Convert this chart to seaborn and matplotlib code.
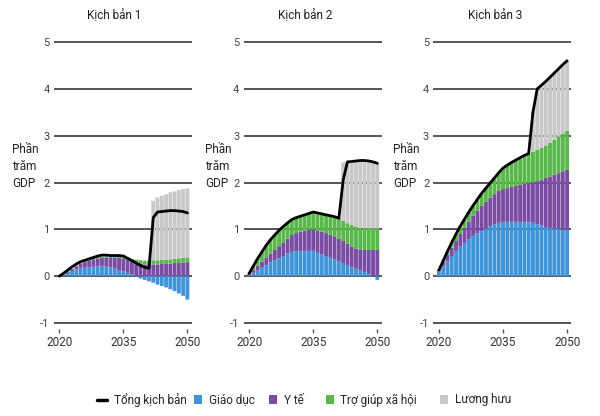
import numpy as np
import pandas as pd
import matplotlib
matplotlib.use("Agg")
import matplotlib.pyplot as plt
from matplotlib.lines import Line2D
from matplotlib.patches import Patch
import seaborn as sns

# Data (percent of GDP), years 2020-2050
years = list(range(2020, 2051))
titles = ["Kịch bản 1", "Kịch bản 2", "Kịch bản 3"]
labels = ["Giáo dục", "Y tế", "Trợ giúp xã hội", "Lương hưu"]
line_label = "Tổng kịch bản"

# Kịch bản 1
edu1 = [0.00, 0.03, 0.07, 0.11, 0.14, 0.16, 0.18, 0.19, 0.20, 0.21, 0.22, 0.21, 0.19, 0.16, 0.13, 0.10,
        0.07, 0.03, -0.01, -0.05, -0.08, -0.11, -0.14, -0.18, -0.21, -0.24, -0.28, -0.32, -0.37, -0.42, -0.50]
health1 = [0.00, 0.01, 0.02, 0.04, 0.07, 0.10, 0.12, 0.14, 0.16, 0.17, 0.17, 0.18, 0.20, 0.23, 0.26, 0.27,
           0.28, 0.29, 0.29, 0.27, 0.25, 0.24, 0.25, 0.25, 0.26, 0.26, 0.27, 0.28, 0.28, 0.29, 0.30]
social1 = [0.00, 0.00, 0.01, 0.01, 0.02, 0.02, 0.02, 0.03, 0.03, 0.03, 0.03, 0.03, 0.03, 0.03, 0.04, 0.04,
           0.05, 0.05, 0.06, 0.07, 0.08, 0.09, 0.09, 0.09, 0.09, 0.09, 0.09, 0.09, 0.10, 0.10, 0.10]
pension1 = [0.0] * 22 + [1.27, 1.34, 1.37, 1.40, 1.43, 1.44, 1.46, 1.47, 1.47]
total1 = [0.00, 0.06, 0.13, 0.20, 0.26, 0.31, 0.34, 0.37, 0.40, 0.43, 0.45, 0.45, 0.44, 0.44, 0.44, 0.43,
          0.38, 0.33, 0.28, 0.23, 0.19, 0.17, 1.25, 1.37, 1.38, 1.39, 1.40, 1.40, 1.39, 1.38, 1.35]

# Kịch bản 2
edu2 = [0.02, 0.07, 0.12, 0.18, 0.23, 0.29, 0.34, 0.38, 0.43, 0.49, 0.52, 0.53, 0.54, 0.54, 0.54, 0.54,
        0.50, 0.46, 0.43, 0.39, 0.36, 0.32, 0.28, 0.24, 0.19, 0.16, 0.12, 0.09, 0.05, 0.00, -0.08]
health2 = [0.03, 0.06, 0.10, 0.13, 0.17, 0.19, 0.22, 0.26, 0.29, 0.31, 0.36, 0.39, 0.41, 0.43, 0.45, 0.46,
           0.48, 0.49, 0.49, 0.50, 0.49, 0.48, 0.47, 0.45, 0.44, 0.43, 0.45, 0.47, 0.51, 0.56, 0.56]
social2 = [0.01, 0.09, 0.16, 0.21, 0.26, 0.30, 0.32, 0.34, 0.34, 0.34, 0.33, 0.33, 0.33, 0.34, 0.35, 0.37,
           0.37, 0.38, 0.39, 0.40, 0.42, 0.44, 0.43, 0.44, 0.46, 0.46, 0.46, 0.46, 0.46, 0.46, 0.46]
pension2 = [0.0] * 22 + [1.25, 1.32, 1.37, 1.42, 1.44, 1.45, 1.44, 1.43, 1.40]
total2 = [0.06, 0.22, 0.38, 0.52, 0.66, 0.78, 0.88, 0.98, 1.06, 1.14, 1.21, 1.25, 1.28, 1.31, 1.34, 1.37,
          1.35, 1.33, 1.31, 1.29, 1.27, 1.24, 2.05, 2.44, 2.45, 2.46, 2.47, 2.47, 2.46, 2.44, 2.41]

# Kịch bản 3
edu3 = [0.10, 0.21, 0.32, 0.43, 0.54, 0.63, 0.71, 0.79, 0.86, 0.91, 0.96, 1.02, 1.07, 1.11, 1.14, 1.16,
        1.16, 1.16, 1.16, 1.16, 1.15, 1.15, 1.14, 1.11, 1.08, 1.05, 1.03, 1.02, 1.01, 1.00, 0.99]
health3 = [0.04, 0.09, 0.14, 0.18, 0.21, 0.27, 0.33, 0.38, 0.43, 0.49, 0.54, 0.57, 0.61, 0.64, 0.68, 0.70,
           0.72, 0.75, 0.77, 0.79, 0.82, 0.84, 0.86, 0.92, 0.98, 1.05, 1.10, 1.15, 1.19, 1.24, 1.28]
social3 = [0.01, 0.03, 0.07, 0.11, 0.15, 0.17, 0.18, 0.20, 0.22, 0.24, 0.26, 0.29, 0.31, 0.35, 0.39, 0.45,
           0.49, 0.52, 0.55, 0.58, 0.61, 0.63, 0.66, 0.67, 0.68, 0.69, 0.72, 0.74, 0.78, 0.81, 0.84]
pension3 = [0.0] * 22 + [0.84, 1.30, 1.34, 1.37, 1.40, 1.43, 1.45, 1.47, 1.49]
total3 = [0.13, 0.33, 0.53, 0.72, 0.90, 1.07, 1.22, 1.37, 1.51, 1.64, 1.77, 1.88, 1.99, 2.10, 2.21, 2.31,
          2.37, 2.43, 2.48, 2.53, 2.58, 2.62, 3.50, 4.00, 4.08, 4.16, 4.25, 4.34, 4.43, 4.52, 4.60]

scenarios = [
    (edu1, health1, social1, pension1, total1),
    (edu2, health2, social2, pension2, total2),
    (edu3, health3, social3, pension3, total3),
]
colors = ["#3f95d8", "#7b4ca3", "#58b84a", "#c8c8c8"]

sns.set_style("white")
plt.rcParams["font.family"] = ["Roboto", "DejaVu Sans"]
plt.rcParams["axes.unicode_minus"] = False

fig = plt.figure(figsize=(6, 4.16), dpi=100)
lefts = [0.0895, 0.406, 0.7223]
title_x = [0.19, 0.508, 0.825]
ylab_x = [0.02, 0.342, 0.655]

for i, (edu, health, social, pension, total) in enumerate(scenarios):
    ax = fig.add_axes([lefts[i], 0.209, 0.23, 0.6955])
    df = pd.DataFrame({"year": years, labels[0]: edu, labels[1]: health,
                       labels[2]: social, labels[3]: pension, "total": total})
    pos_base = np.zeros(len(df))
    neg_base = np.zeros(len(df))
    for name, c in zip(labels, colors):
        v = df[name].to_numpy()
        base = np.where(v >= 0, pos_base, neg_base)
        bars = ax.bar(df["year"], v, bottom=base, width=0.9, color=c, linewidth=0, zorder=2)
        for b in bars:
            b.set_snap(False)
        pos_base = pos_base + np.clip(v, 0, None)
        neg_base = neg_base + np.clip(v, None, 0)
    sns.lineplot(data=df, x="year", y="total", color="black", linewidth=2.0, ax=ax, zorder=3)

    ax.set_xlim(2018.7, 2051.0)
    ax.set_ylim(-1.13, 5.05)
    ax.set_yticks(range(-1, 6))
    ax.set_xticks([2020, 2035, 2050])
    ax.yaxis.grid(True, color="#555555", linewidth=1.4, zorder=0)
    ax.set_axisbelow(True)
    for s in ax.spines.values():
        s.set_visible(False)
    ax.tick_params(axis="y", length=0, pad=3, labelsize=8, labelcolor="#444444")
    ax.tick_params(axis="x", length=3, width=1, color="#555555", pad=2,
                   labelsize=8.5, labelcolor="#333333", bottom=True)
    ax.set_xlabel("")
    ax.set_ylabel("")
    fig.text(title_x[i], 0.962, titles[i], ha="center", va="center", fontsize=8.5, color="#222222")
    fig.text(ylab_x[i], 0.6, "Phần\ntrăm\nGDP", ha="left", va="center", fontsize=8.5,
             color="#222222", linespacing=1.38)

# legend entries placed one by one, as in the original
handles = [Line2D([0], [0], color="black", linewidth=2.5)] + \
          [Patch(facecolor=c, edgecolor="none") for c in colors]
legend_x = [97, 194, 269, 325.7, 440]
for h, lab, x in zip(handles, [line_label] + labels, legend_x):
    fig.legend([h], [lab], loc="center left", bbox_to_anchor=(x / 600, 1 - 400 / 416),
               frameon=False, fontsize=8.5, handlelength=0.7 if isinstance(h, Patch) else 0.85,
               handleheight=0.7, handletextpad=0.55, borderpad=0, borderaxespad=0)

fig.savefig("out.png", dpi=100)
